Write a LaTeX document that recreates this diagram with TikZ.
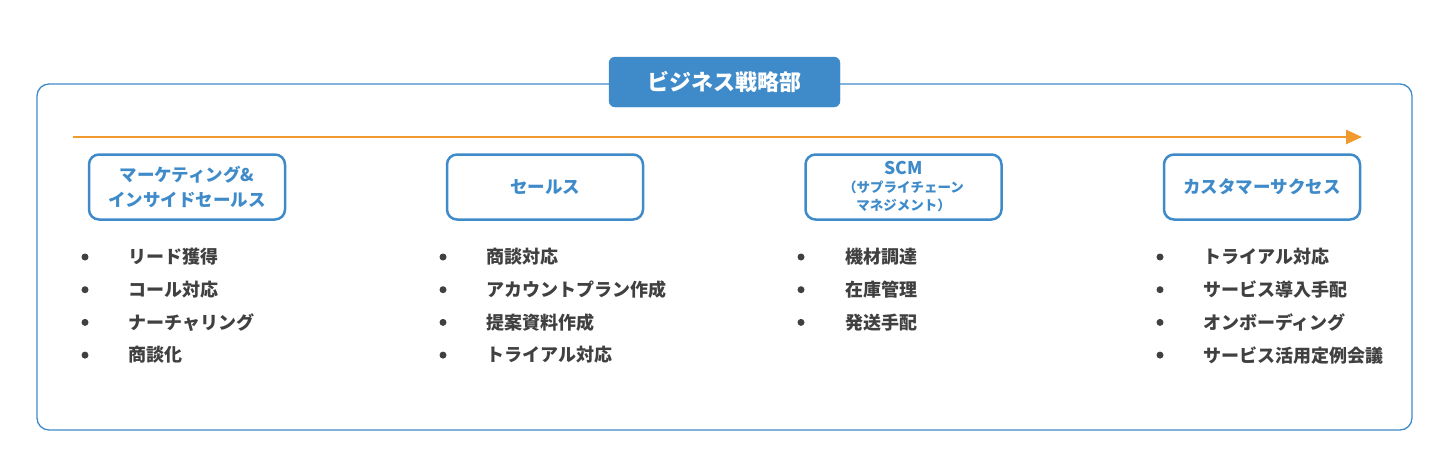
\documentclass[tikz,border=0pt]{standalone}
\usepackage{fontspec}
\setmainfont{Noto Sans CJK JP}
\usetikzlibrary{arrows.meta}
\definecolor{mblue}{HTML}{3F8BCA}
\definecolor{morange}{HTML}{F09A2E}
\definecolor{mtext}{HTML}{404040}
\begin{document}
\begin{tikzpicture}[x=1pt,y=-1pt,
  frame/.style={draw=mblue,line width=1.3pt,rounded corners=12pt},
  titlebox/.style={fill=mblue,draw=mblue,rounded corners=6pt,text=white,font=\bfseries\fontsize{22}{24}\selectfont,minimum width=231pt,minimum height=50pt,inner sep=0pt},
  dept/.style={draw=mblue,line width=2.5pt,rounded corners=10pt,fill=white,text=mblue,font=\bfseries\fontsize{17.5}{25}\selectfont,minimum width=196pt,minimum height=65pt,align=center,inner sep=0pt},
  item/.style={anchor=west,text=mtext,font=\bfseries\fontsize{18}{20}\selectfont,inner sep=0pt},
  dot/.style={circle,fill=mtext,inner sep=0pt,minimum size=7pt},
  flow/.style={draw=morange,line width=2.6pt,-{Triangle[length=16pt,width=14pt]}}
]
\useasboundingbox (0,0) rectangle (1440,472);
\draw[frame] (37,84) rectangle (1412,430);
\node[titlebox] (title) at (724.5,82) {ビジネス戦略部};
\coordinate (as) at (73,137);
\coordinate (ae) at (1362,137);
\draw[flow] (as) -- (ae);
\node[dept] (d1) at (187,187) {マーケティング\&\\インサイドセールス};
\node[dept] (d2) at (545,187) {セールス};
\node[dept,font=\bfseries\fontsize{17.5}{18}\selectfont] (d3) at (903.5,187) {SCM\\\fontsize{13.5}{18}\selectfont （サプライチェーン\\\fontsize{13.5}{18}\selectfont マネジメント）};
\node[dept] (d4) at (1262,187) {カスタマーサクセス};
\foreach \t [count=\i] in {リード獲得,コール対応,ナーチャリング,商談化}{
  \node[dot] (b1\i) at (85,{257+32.7*(\i-1)}) {};
  \node[item] (t1\i) at (128,{257+32.7*(\i-1)}) {\t};
}
\foreach \t [count=\i] in {商談対応,アカウントプラン作成,提案資料作成,トライアル対応}{
  \node[dot] (b2\i) at (443,{257+32.7*(\i-1)}) {};
  \node[item] (t2\i) at (486,{257+32.7*(\i-1)}) {\t};
}
\foreach \t [count=\i] in {機材調達,在庫管理,発送手配}{
  \node[dot] (b3\i) at (801,{257+32.7*(\i-1)}) {};
  \node[item] (t3\i) at (845,{257+32.7*(\i-1)}) {\t};
}
\foreach \t [count=\i] in {トライアル対応,サービス導入手配,オンボーディング,サービス活用定例会議}{
  \node[dot] (b4\i) at (1160,{257+32.7*(\i-1)}) {};
  \node[item] (t4\i) at (1203,{257+32.7*(\i-1)}) {\t};
}
\end{tikzpicture}
\end{document}
